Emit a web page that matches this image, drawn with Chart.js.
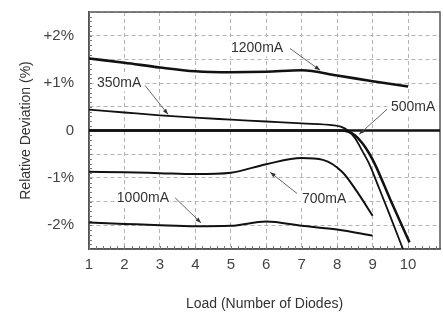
<!DOCTYPE html>
<html>
<head>
<meta charset="utf-8">
<script src="https://cdn.jsdelivr.net/npm/chart.js@4/dist/chart.umd.min.js"></script>
<style>
  html, body { margin:0; padding:0; background:#fff; }
</style>
</head>
<body>
<canvas id="myChart" width="443" height="313"></canvas>
<script>
// axis ranges and tick labels
var xMin = 1, xMax = 10.9, yMin = -2.5, yMax = 2.5;
var xTickValues = [1,2,3,4,5,6,7,8,9,10];
var yTickValues = [2,1,0,-1,-2];
var yTickLabels = ['+2%','+1%','0','-1%','-2%'];

// series (load, deviation %)
var loads1200 = [1,2,3,4,5,6,7,8,9,10];
var dev1200   = [1.52,1.43,1.33,1.25,1.23,1.24,1.27,1.16,1.04,0.93];
var loads350  = [1,2,3,4,5,6,7,7.9,8.1,8.3,8.5,8.7,8.9,9.2,9.47,9.87];
var dev350    = [0.44,0.38,0.32,0.27,0.23,0.19,0.15,0.11,0.08,0,-0.16,-0.42,-0.7,-1.25,-1.76,-2.53];
var loads500  = [1,2,3,4,5,6,7,8,8.1,8.3,8.5,8.7,8.9,9.07,9.5,10.04];
var dev500    = [0,0,0,0,0,0,0,0,0,-0.02,-0.1,-0.26,-0.48,-0.72,-1.46,-2.36];
var loads700  = [1,2,3,4,5,6,7,7.6,8.15,8.55,9];
var dev700    = [-0.87,-0.88,-0.9,-0.92,-0.89,-0.71,-0.58,-0.62,-0.88,-1.28,-1.8];
var loads1000 = [1,2,3,4,5,6,7,8,9];
var dev1000   = [-1.94,-1.97,-2.0,-2.02,-2.01,-1.92,-2.01,-2.09,-2.22];

// callout labels: text, label pos, leader start, leader end (data coords)
var noteText  = ['1200mA','350mA','500mA','700mA','1000mA'];
var noteLabel = [[5.74,1.73],[1.85,0.99],[10.14,0.49],[7.63,-1.44],[2.52,-1.42]];
var noteFrom  = [[6.67,1.73],[2.58,0.95],[9.41,0.45],[6.87,-1.33],[3.43,-1.42]];
var noteTo    = [[7.52,1.27],[3.23,0.34],[8.62,-0.08],[6.11,-0.88],[4.16,-1.95]];

function pts(xs, ys){
    return xs.map(function(v,i){ return {x:v, y:ys[i]}; });
}

function series(label, xs, ys, w){
    return {
        label: label,
        data: pts(xs, ys),
        borderColor: '#111',
        borderWidth: w,
        pointRadius: 0,
        fill: false,
        cubicInterpolationMode: 'monotone'
    };
}

var frame = {
    id: 'frame',
    beforeDatasetsDraw: function(chart){
        var c = chart.ctx, a = chart.chartArea;
        var xs = chart.scales.x, ys = chart.scales.y;
        c.save();
        c.strokeStyle = '#555';
        c.lineWidth = 1.5;
        c.strokeRect(a.left, a.top, a.right - a.left, a.bottom - a.top);
        // minor ticks
        c.lineWidth = 1;
        c.strokeStyle = '#777';
        for (var v = yMin; v <= yMax + 0.001; v += 0.1){
            var py = Math.round(ys.getPixelForValue(v)) + 0.5;
            c.beginPath(); c.moveTo(a.left, py); c.lineTo(a.left + 3, py); c.stroke();
        }
        for (var u = xMin; u <= xMax + 0.001; u += 0.2){
            var px = Math.round(xs.getPixelForValue(u)) + 0.5;
            c.beginPath(); c.moveTo(px, a.bottom); c.lineTo(px, a.bottom - 3); c.stroke();
        }
        c.restore();
    }
};

var notes = {
    id: 'notes',
    afterDatasetsDraw: function(chart){
        var c = chart.ctx;
        var xs = chart.scales.x, ys = chart.scales.y;
        c.save();
        c.font = '14px "Liberation Sans", Arial, sans-serif';
        c.textAlign = 'center';
        c.textBaseline = 'middle';
        noteText.forEach(function(t, i){
            var lx = xs.getPixelForValue(noteLabel[i][0]), ly = ys.getPixelForValue(noteLabel[i][1]);
            var w = c.measureText(t).width;
            c.fillStyle = '#fff';
            c.fillRect(lx - w/2 - 1, ly - 8, w + 2, 16);
            c.fillStyle = '#333';
            c.fillText(t, lx, ly);
            var x1 = xs.getPixelForValue(noteFrom[i][0]), y1 = ys.getPixelForValue(noteFrom[i][1]);
            var x2 = xs.getPixelForValue(noteTo[i][0]), y2 = ys.getPixelForValue(noteTo[i][1]);
            c.strokeStyle = '#666';
            c.lineWidth = 1;
            c.beginPath(); c.moveTo(x1, y1); c.lineTo(x2, y2); c.stroke();
            var ang = Math.atan2(y2 - y1, x2 - x1);
            c.fillStyle = '#333';
            c.beginPath();
            c.moveTo(x2, y2);
            c.lineTo(x2 - 6*Math.cos(ang - 0.35), y2 - 6*Math.sin(ang - 0.35));
            c.lineTo(x2 - 6*Math.cos(ang + 0.35), y2 - 6*Math.sin(ang + 0.35));
            c.closePath();
            c.fill();
        });
        c.restore();
    }
};

var ctx = document.getElementById('myChart').getContext('2d');
var myChart = new Chart(ctx, {
    type: 'line',
    data: {
        datasets: [
            {label:'zero', data: pts([xMin, xMax],[0,0]), borderColor:'#111', borderWidth:2.5, pointRadius:0},
            series('1200mA', loads1200, dev1200, 2.6),
            series('350mA', loads350, dev350, 1.8),
            series('500mA', loads500, dev500, 2.5),
            series('700mA', loads700, dev700, 2),
            series('1000mA', loads1000, dev1000, 2)
        ]
    },
    options: {
        responsive: false,
        animation: false,
        layout: { padding: { top: 12, right: 3, left: 0, bottom: 0 } },
        plugins: { legend: { display: false }, tooltip: { enabled: false } },
        scales: {
            x: {
                type: 'linear',
                min: xMin, max: xMax,
                afterFit: function(s){ s.height = 64; },
                ticks: {
                    stepSize: 1, includeBounds: false, padding: 7,
                    color: '#444',
                    font: { size: 15, family: '"Liberation Sans", Arial, sans-serif' },
                    callback: function(v){ return xTickValues.indexOf(v) >= 0 ? String(v) : ''; }
                },
                grid: { color: '#b4b4b4', lineWidth: 1, drawTicks: false },
                border: { color: '#555', width: 1.5, dash: [4,3] },
                title: {
                    display: true, text: 'Load (Number of Diodes)', color: '#333',
                    font: { size: 14, family: '"Liberation Sans", Arial, sans-serif' },
                    padding: { top: 4, bottom: 0 }
                }
            },
            y: {
                min: yMin, max: yMax,
                afterFit: function(s){ s.width = 89; s.paddingTop = 0; s.paddingBottom = 0; },
                ticks: {
                    stepSize: 0.5, padding: 15,
                    color: '#444',
                    font: { size: 15, family: '"Liberation Sans", Arial, sans-serif' },
                    callback: function(v){
                        var k = yTickValues.indexOf(v);
                        return k >= 0 ? yTickLabels[k] : '';
                    }
                },
                grid: { color: '#b4b4b4', lineWidth: 1, drawTicks: false },
                border: { color: '#555', width: 1.5, dash: [4,3] },
                title: {
                    display: true, text: 'Relative Deviation (%)', color: '#333',
                    font: { size: 14, family: '"Liberation Sans", Arial, sans-serif' },
                    padding: { top: 18, bottom: 0 }
                }
            }
        }
    },
    plugins: [frame, notes]
});
</script>
</body>
</html>
